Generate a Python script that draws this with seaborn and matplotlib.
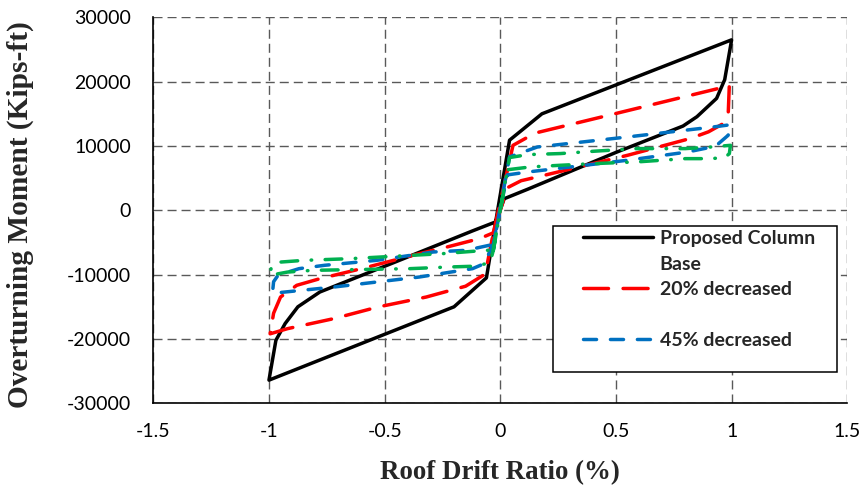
import matplotlib
matplotlib.use("Agg")
import matplotlib.pyplot as plt
from matplotlib.lines import Line2D
from matplotlib.patches import Rectangle
import seaborn as sns
import pandas as pd

# ---------------- data ----------------
proposed_x = [-0.02, 0.04, 0.18, 1.00, 0.985, 0.97, 0.935, 0.85, 0.79, 0.5, 0.12, 0.017,
              -0.02, -0.06, -0.20, -1.00, -0.985, -0.97, -0.93, -0.875, -0.78, -0.5, -0.12, -0.02]
proposed_y = [-1800, 10900, 15000, 26500, 23400, 20300, 17400, 14550, 13100, 9000, 3300, 1800,
              -1800, -10500, -15000, -26400, -23300, -20200, -17600, -15000, -12700, -8700, -3200, -1800]

dec20_x = [-0.03, 0.055, 0.15, 0.46, 0.95, 0.99, 0.985, 0.96, 0.9, 0.82, 0.55, 0.19, 0.09, 0.03,
           -0.03, -0.065, -0.15, -0.32, -0.53, -0.72, -0.92, -0.995, -0.98, -0.95, -0.88, -0.78,
           -0.6, -0.35, -0.23, -0.09, -0.03]
dec20_y = [-3500, 10100, 12000, 14700, 19000, 19450, 14800, 13400, 12200, 11150, 8550, 5440, 4600, 3500,
           -3500, -9900, -11800, -13480, -15040, -16840, -18400, -19200, -16000, -13480, -11660, -10630,
           -9070, -6740, -5700, -4400, -3500]

dec45_x = [-0.03, 0.04, 0.16, 0.55, 0.92, 0.995, 0.985, 0.93, 0.81, 0.55, 0.12, 0.03,
           -0.03, -0.07, -0.12, -0.35, -0.72, -0.985, -0.98, -0.96, -0.87, -0.76, -0.535, -0.29,
           -0.148, -0.03]
dec45_y = [-5300, 8300, 9840, 11400, 12950, 13300, 11660, 9950, 9070, 7780, 5960, 5500,
           -5300, -8300, -9070, -10370, -11930, -12900, -11100, -10060, -9070, -8550, -7780, -6480,
           -6220, -5300]

dec70_x = [-0.03, 0.04, 0.12, 0.26, 0.405, 0.59, 0.8, 0.91, 0.995, 0.99, 0.97, 0.91, 0.8, 0.59,
           0.405, 0.26, 0.13, 0.03, -0.03, -0.045, -0.12, -0.22, -0.39, -0.81, -0.92, -0.995,
           -0.99, -0.97, -0.85, -0.65, -0.435, -0.25, -0.062, -0.03]
dec70_y = [-6200, 8200, 8660, 8820, 9180, 9590, 9590, 9840, 10100, 8800, 8200, 8030, 8030, 7520,
           7260, 7000, 6740, 6300, -6200, -8200, -8700, -8810, -9070, -9330, -9600, -10100,
           -8800, -8100, -7780, -7520, -7100, -6740, -6220, -6200]

legend_labels = ["Proposed Column", "Base", "20% decreased", " ", "45% decreased", " "]
x_ticks = [-1.5, -1.0, -0.5, 0.0, 0.5, 1.0, 1.5]
x_ticklabels = ["-1.5", "-1", "-0.5", "0", "0.5", "1", "1.5"]
y_ticks = [-30000, -20000, -10000, 0, 10000, 20000, 30000]
y_ticklabels = ["-30000", "-20000", "-10000", "0", "10000", "20000", "30000"]
x_label = "Roof Drift Ratio (%)"
y_label = "Overturning Moment (Kips-ft)"

# ---------------- style ----------------
sns.set_style("white")
plt.rcParams["lines.scale_dashes"] = False
plt.rcParams["axes.unicode_minus"] = False
plt.rcParams["font.family"] = ["Lato", "DejaVu Sans"]

fig = plt.figure(figsize=(8.64, 4.91), dpi=100)
ax = fig.add_axes([153.3 / 864, 1 - 403.3 / 491, 694 / 864, 386 / 491])

LW = 2.5
RED_LS = (0, (18, 10.5))
BLUE_LS = (0, (9.4, 10))
GREEN_LS = (0, (12, 9.7, 0.4, 9.7))
series = [
    (proposed_x, proposed_y, "black", "-"),
    (dec20_x, dec20_y, "#FF0000", RED_LS),
    (dec45_x, dec45_y, "#0070C0", BLUE_LS),
    (dec70_x, dec70_y, "#00B050", GREEN_LS),
]
for i, (xs, ys, col, ls) in enumerate(series):
    df = pd.DataFrame({"x": xs, "y": ys})
    sns.lineplot(data=df, x="x", y="y", sort=False, estimator=None, ax=ax,
                 color=col, linewidth=LW, zorder=3 + i)
    ln = ax.lines[-1]
    ln.set_linestyle(ls)
    ln.set_dash_capstyle("round")
    ln.set_solid_capstyle("round")
    ln.set_solid_joinstyle("round")

ax.set_xlim(-1.5, 1.5)
ax.set_ylim(-30000, 30000)
ax.set_xticks(x_ticks)
ax.set_xticklabels(x_ticklabels)
ax.set_yticks(y_ticks)
ax.set_yticklabels(y_ticklabels)
ax.tick_params(axis="both", length=0, labelsize=14, colors="black")
ax.tick_params(axis="x", pad=14)
ax.tick_params(axis="y", pad=16)

ax.grid(True, color="#595959", linewidth=1.0, linestyle=(0, (6.5, 3.6)))
ax.set_axisbelow(True)
for s in ["top", "right"]:
    ax.spines[s].set_visible(False)
for s in ["left", "bottom"]:
    ax.spines[s].set_color("black")
    ax.spines[s].set_linewidth(1.2)

ax.set_xlabel(x_label, fontdict=dict(family=["Liberation Serif"], weight="bold", size=19.4))
ax.set_ylabel(y_label, fontdict=dict(family=["Liberation Serif"], weight="bold", size=21.2))
ax.xaxis.set_label_coords(0.5, -0.147)
ax.yaxis.set_label_coords(-0.172, 0.49)

# legend box
rect = Rectangle((553 / 864, 1 - 372 / 491), (837 - 553) / 864, (372 - 226) / 491,
                 transform=fig.transFigure, facecolor="white", edgecolor="black",
                 linewidth=1.1, zorder=10)
fig.add_artist(rect)

none = Line2D([], [], color="none")
handles = [
    Line2D([], [], color="black", linewidth=LW, linestyle="-", solid_capstyle="round"),
    none,
    Line2D([], [], color="#FF0000", linewidth=LW, linestyle=RED_LS, dash_capstyle="round"),
    none,
    Line2D([], [], color="#0070C0", linewidth=LW, linestyle=BLUE_LS, dash_capstyle="round"),
    none,
]
leg = fig.legend(handles, legend_labels, loc="upper left",
                 bbox_to_anchor=(583 / 864, 1 - 230 / 491), bbox_transform=fig.transFigure,
                 frameon=False, borderpad=0, borderaxespad=0, handlelength=3.6,
                 handletextpad=0.35, labelspacing=0.44,
                 prop=dict(family=["Lato"], weight="bold", size=14))
leg.set_zorder(11)

fig.savefig("out.png", dpi=100)
